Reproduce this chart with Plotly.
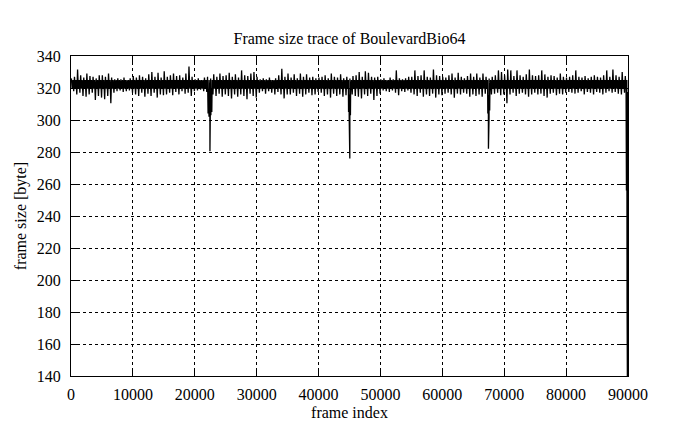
import plotly.graph_objects as go

# Segment width (frames) used when reading the band extremes off the picture
SEG = 500

# upper envelope of each 500-frame segment (bytes)
hi = [326, 327, 331.5, 328, 326.5, 329, 327.5, 327, 326, 328,
      328, 327, 329, 326.5, 325.5, 326, 325.5, 326.5, 325, 326,
      327.5, 326.5, 328, 327, 326, 328.5, 330, 327, 329.5, 326.5,
      330.5, 327, 328, 329, 327.5, 328, 326.5, 329, 333.5, 327,
      325.5, 326, 325, 326.5, 327, 326, 328.5, 327, 329, 327.5,
      328, 329.5, 327, 328.5, 326.5, 331, 328, 327.5, 329, 330,
      327, 325.5, 326, 325.5, 326.5, 325, 326, 328, 332, 327,
      329, 326.5, 328.5, 326, 329, 327, 328.5, 326.5, 327, 326,
      326.5, 327, 328, 326, 329, 327, 326.5, 328.5, 326, 327,
      326, 327.5, 328, 330, 327, 330.5, 329.5, 327, 326.5, 327,
      325.5, 326, 325, 326.5, 325.5, 331, 326, 325.5, 326, 327,
      327, 331, 327.5, 328, 331, 327, 326.5, 331.5, 328, 327.5,
      327, 326.5, 328, 329, 326.5, 329.5, 327, 326, 327.5, 329,
      327, 329, 326.5, 329, 327, 326, 327, 328, 331, 330,
      328, 331.5, 331, 327.5, 331, 328, 327, 328.5, 331.5, 328,
      327.5, 328, 331, 328.5, 327, 328, 327.5, 326.5, 329, 327,
      326.5, 327, 328, 331, 327, 326.5, 327.5, 326, 327, 328,
      327, 326.5, 328, 331, 327, 331.5, 328, 327, 330, 327.5]

# lower envelope of each segment (bytes)
lo = [318, 316, 317, 315, 314.5, 316, 317, 312.5, 315, 314,
      313, 315, 310.5, 317, 318, 318.5, 317.5, 318, 318.5, 317,
      316, 315, 317, 314.5, 316.5, 315, 317, 314, 316, 315.5,
      316, 317, 315.5, 317.5, 316, 318, 316.5, 317, 315, 318,
      318.5, 319, 318, 317.5, 316, 316, 315, 316.5, 314.5, 316,
      315, 313.5, 316, 314.5, 316, 315, 313, 316.5, 315, 314,
      317, 318, 316.5, 318, 317, 316, 317.5, 316, 313.5, 316,
      316, 317, 315, 316.5, 314.5, 316, 317, 315.5, 316, 317.5,
      317, 315, 316, 314, 316.5, 315, 316, 314.5, 315.5, 316,
      316, 315, 314.5, 313.5, 316, 315, 316.5, 312.5, 315, 316.5,
      318.5, 318, 317.5, 318.5, 317, 315.5, 318, 317.5, 318.5, 317,
      316, 315, 317, 314.5, 316, 315, 316.5, 314, 316, 315.5,
      316.5, 317, 316, 314, 316.5, 316, 317, 316.5, 314.5, 316,
      315, 316, 314.5, 316.5, 315.5, 316, 316.5, 317, 315.5, 316,
      310.5, 316, 317, 315, 316.5, 317, 316, 314.5, 316, 317,
      316, 316.5, 315, 314, 316.5, 317, 315.5, 316.5, 316, 317,
      317.5, 317, 316.5, 317, 318, 316, 317.5, 317, 316, 317.5,
      317, 316, 317, 318, 317, 317.5, 316.5, 316, 317, 317.5]

# solid core of the band (bytes)
core_top = 325
core_bottom = 319.5

# the three deep dips and the drop at the very end of the trace
dip_frames = [22150, 22300, 22450, 22600, 22750,
              44850, 44950, 45050, 45150,
              67350, 67450, 67550, 67650,
              89750, 89800, 89850, 89900, 89950, 90000]
dip_values = [304, 302, 280.5, 303, 305,
              305, 302, 276, 303,
              304, 282, 302, 306,
              256, 300, 186, 140, 186, 140]

x_ticks = [0, 10000, 20000, 30000, 40000, 50000, 60000, 70000, 80000, 90000]
y_ticks = [140, 160, 180, 200, 220, 240, 260, 280, 300, 320, 340]

pts = []
for i, (h, l) in enumerate(zip(hi, lo)):
    base = SEG * i
    pts.append((base + SEG * 0.125, h))
    pts.append((base + SEG * 0.375, core_bottom))
    pts.append((base + SEG * 0.625, core_top))
    pts.append((base + SEG * 0.875, l))
pts += list(zip(dip_frames, dip_values))
pts.sort(key=lambda p: p[0])
xs = [p[0] for p in pts]
ys = [p[1] for p in pts]

FONT = "Liberation Serif, Times New Roman, serif"

fig = go.Figure()
fig.add_trace(go.Scatter(x=xs, y=ys, mode="lines",
                         line=dict(color="black", width=1.3, simplify=False),
                         showlegend=False, hoverinfo="skip"))

axis_common = dict(
    showline=True, linecolor="black", linewidth=1, mirror="allticks",
    ticks="inside", ticklen=8, tickcolor="black", tickwidth=1,
    showgrid=True, gridcolor="black", griddash="dot", gridwidth=1,
    zeroline=False, tickfont=dict(family=FONT, size=16, color="black"),
)

fig.update_xaxes(range=[0, 90000], tickvals=x_ticks,
                 ticktext=[str(v) for v in x_ticks],
                 title=dict(text="frame index", font=dict(family=FONT, size=16, color="black"), standoff=4),
                 ticklabelstandoff=4, **axis_common)
fig.update_yaxes(range=[140, 340], tickvals=y_ticks,
                 ticktext=[str(v) for v in y_ticks],
                 title=dict(text="frame size [byte]", font=dict(family=FONT, size=16, color="black"), standoff=6),
                 ticklabelstandoff=6, **axis_common)

# the page has an 8px body margin, so the figure is laid out 8px left/up
fig.update_layout(
    width=695, height=429,
    margin=dict(l=63, r=75, t=48, b=61),
    paper_bgcolor="white", plot_bgcolor="white",
    title=dict(text="Frame size trace of BoulevardBio64", x=(63 + 557 / 2) / 695, xanchor="center",
               y=1 - 30 / 429, yanchor="middle", yref="container",
               font=dict(family=FONT, size=16, color="black")),
)

fig.write_html("out.html")
